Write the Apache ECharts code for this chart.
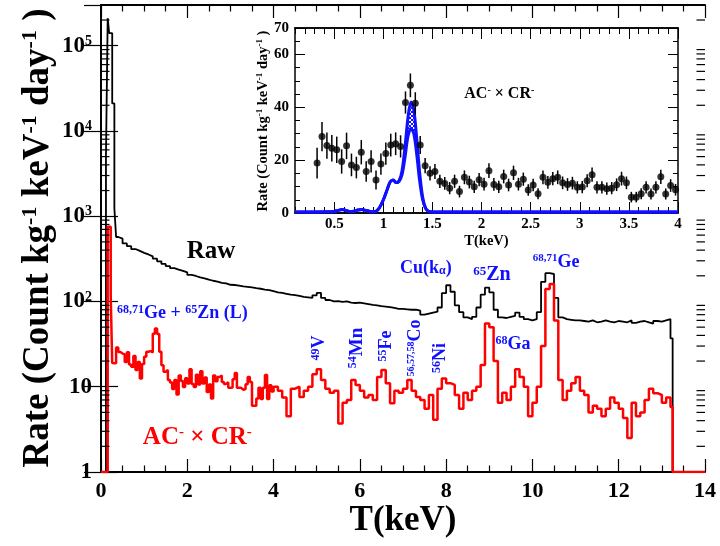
<!DOCTYPE html>
<html><head><meta charset="utf-8">
<script src="https://cdn.jsdelivr.net/npm/echarts@6/dist/echarts.min.js"></script>
<style>html,body{margin:0;padding:0;background:#fff}#c{width:720px;height:546px}</style>
</head><body><div id="c"></div>
<script>
// ---------------- DATA ----------------
// Raw histogram: irregular low-energy bins, then 0.1 keV bins from 0.4 keV
const rawLowEdges = [0, 0.115, 0.155, 0.19, 0.26, 0.31, 0.35];
const rawLowValues = [1, 5000, 210000, 140000, 21000, 1240, 570];
const rawStart = 0.4;
const rawBinWidth = 0.1;
const rawValues = [
  545, 480, 445, 412, 392, 372, 356, 338, 318, 296,
  276, 260, 246, 236, 229, 219, 205, 199, 192, 187,
  180, 175, 171, 165, 163, 157, 156, 153, 150, 148,
  146, 143, 141, 138, 136, 132, 128, 126, 123, 120,
  119, 116, 113, 112, 110, 118, 126, 110, 104, 100,
  101, 99, 100, 97, 96, 97, 95, 93, 91, 90,
  88, 87, 86, 84, 82, 82, 81, 80, 80, 78,
  70, 72, 74, 76, 85, 125, 155, 130, 90, 75,
  65, 62, 66, 85, 120, 145, 128, 80, 65, 64,
  66, 68, 74, 66, 62, 60, 62, 75, 170, 215,
  210, 110, 65, 62, 61, 60, 60, 59, 58, 60,
  57, 58, 60, 58, 57, 59, 58, 57, 60, 56,
  58, 59, 57, 55, 59, 58, 60, 62
];
const rawTailEdges = [13.2, 13.25];
const rawTailValues = [37, 1];

// AC- x CR- : low-energy bins, then the 0.05 keV bins shown in the inset, then 0.1 keV bins
const redLowEdges = [0, 0.155, 0.225, 0.26];
const redLowValues = [1, 750, 118, 19];
const insetStart = 0.3;
const insetBinWidth = 0.05;
const insetValues = [
  18.9, 28.9, 25.5, 24.5, 23.9, 19.5, 25.4, 18.2, 17.2, 23.0,
  15.7, 19.5, 12.5, 18.5, 22.5, 25.7, 26.2, 25.2, 41.8, 48.3,
  41.5, 25.7, 17.9, 15.0, 15.7, 12.0, 11.2, 9.4, 12.0, 8.1,
  13.5, 11.7, 9.9, 12.6, 10.9, 16.0, 10.8, 9.9, 13.8, 10.6,
  15.2, 10.9, 12.8, 8.7, 10.6, 7.3, 13.5, 11.6, 13.0, 13.5,
  11.4, 10.8, 11.3, 9.7, 9.8, 12.2, 14.5, 9.7, 9.7, 9.2,
  9.4, 10.7, 13.0, 11.4, 6.0, 6.0, 7.3, 9.7, 7.2, 9.7,
  13.7, 7.2, 10.4, 8.8
];
const insetErrors = [
  5.8, 5.5, 5.0, 5.0, 5.0, 4.6, 5.0, 4.3, 4.1, 4.6,
  3.9, 4.2, 3.6, 4.0, 4.2, 4.3, 4.3, 4.2, 4.2, 4.5,
  4.2, 3.4, 2.9, 2.7, 2.8, 2.5, 2.4, 2.3, 2.5, 2.2,
  2.6, 2.4, 2.3, 2.5, 2.4, 2.8, 2.4, 2.3, 2.6, 2.4,
  2.7, 2.4, 2.5, 2.2, 2.4, 2.1, 2.6, 2.4, 2.5, 2.6,
  2.4, 2.4, 2.4, 2.3, 2.3, 2.5, 2.7, 2.3, 2.3, 2.3,
  2.3, 2.4, 2.6, 2.4, 2.0, 2.0, 2.1, 2.3, 2.1, 2.3,
  2.7, 2.1, 2.4, 2.2
];
const redStart = 4.0;
const redBinWidth = 0.1;
const redValues = [
  10, 9, 7.5, 4.5, 9.5, 10, 7.6, 9, 10, 14,
  16, 12, 9.5, 8.5, 9, 3.7, 6.5, 7, 12, 10.5,
  9, 7.5, 8, 7, 13, 15.7, 11, 6.4, 9, 8.5,
  9.5, 12, 9, 7.6, 7, 5.5, 8, 4.1, 9.5, 12.5,
  11, 10.5, 8, 5.5, 8.5, 7, 9, 10, 18, 55,
  50, 20, 6.5, 8.5, 7, 10, 16, 13, 10, 4.5,
  6.5, 10, 30, 140, 160, 60, 12, 7, 9, 11,
  13, 9, 8, 5, 6, 5.5, 4.5, 5.5, 7.5, 6.5,
  5.5, 4.3, 2.5, 6.5, 4.5, 5, 7, 9.5, 8.4, 8,
  6.5, 7.5
];
const redTailEdges = [13.2, 13.25];
const redTailValues = [5.8, 1];

// Inset fit curve (upper and lower edges of the band)
const fitX =     [0.1, 0.3, 0.45, 0.5, 0.54, 0.58, 0.62, 0.66, 0.7, 0.74, 0.78, 0.82, 0.86, 0.9, 0.93, 0.96, 1.0, 1.04, 1.07, 1.1, 1.13, 1.16, 1.19, 1.22, 1.25, 1.28, 1.31, 1.34, 1.37, 1.4, 1.43, 1.46, 1.5, 1.6, 4.0];
const fitUpper = [0.4, 0.4, 0.45, 0.6, 1.0, 1.3, 1.0, 0.6, 0.7, 1.1, 1.3, 1.0, 0.6, 0.5, 0.8, 2.0, 5.0, 9.0, 11.8, 12.5, 11.5, 12.2, 16, 25, 36, 42, 39, 28, 15, 6, 1.8, 0.6, 0.4, 0.4, 0.4];
const fitLower = [0.4, 0.4, 0.45, 0.6, 1.0, 1.3, 1.0, 0.6, 0.7, 1.1, 1.3, 1.0, 0.6, 0.5, 0.8, 2.0, 5.0, 9.0, 11.8, 12.5, 11.5, 12.0, 14.5, 21, 29, 32, 30, 22, 12, 5, 1.8, 0.6, 0.4, 0.4, 0.4];

// Tick labels
const mainXTicks = [0, 2, 4, 6, 8, 10, 12, 14];
const insetXTicks = [0.5, 1, 1.5, 2, 2.5, 3, 3.5, 4];

// ---------------- BUILD ----------------
const r3 = v => Math.round(v * 1000) / 1000;
function steps(edges, values, end) {
  const pts = edges.map((e, i) => [e, values[i]]);
  pts.push([end, values[values.length - 1]]);
  return pts;
}
const rawEdges = rawLowEdges.concat(rawValues.map((_, i) => r3(rawStart + rawBinWidth * i)), rawTailEdges);
const rawAll = rawLowValues.concat(rawValues, rawTailValues);
const redEdges = redLowEdges.concat(
  insetValues.map((_, i) => r3(insetStart + insetBinWidth * i)),
  redValues.map((_, i) => r3(redStart + redBinWidth * i)),
  redTailEdges);
const redAll = redLowValues.concat(insetValues, redValues, redTailValues);

const insetPts = insetValues.map((v, i) => [r3(insetStart + insetBinWidth * (i + 0.5)), v]);
const insetErr = insetValues.map((v, i) => [r3(insetStart + insetBinWidth * (i + 0.5)), v, insetErrors[i]]);
const bandIdx = fitX.map((x, i) => i).filter(i => fitX[i] >= 1.13 && fitX[i] <= 1.43);

const minorLog = [];
for (let k = 0; k <= 5; k++) for (let m = 2; m <= 9; m++) { const v = m * Math.pow(10, k); if (v < 3e5) minorLog.push([0, v]); }
const insetMinor = [];
for (let i = 1; i <= 40; i++) insetMinor.push(r3(i * 0.1));

const FONT = 'Liberation Serif';
const BLUE = '#1010ff';

const pc = document.createElement('canvas'); pc.width = 4; pc.height = 4;
const g = pc.getContext('2d'); g.fillStyle = '#fff'; g.fillRect(0, 0, 4, 4);
g.strokeStyle = BLUE; g.lineWidth = 1; g.beginPath(); g.moveTo(0, 0); g.lineTo(4, 4); g.moveTo(4, 0); g.lineTo(0, 4); g.stroke();

const chart = echarts.init(document.getElementById('c'));

function supRich(main, sup, sub) {
  return {
    m: {fontFamily: FONT, fontWeight: 'bold', fontSize: main, verticalAlign: 'middle'},
    s: {fontFamily: FONT, fontWeight: 'bold', fontSize: sup, verticalAlign: 'top', lineHeight: sup},
    d: {fontFamily: FONT, fontWeight: 'bold', fontSize: sub || sup, verticalAlign: 'bottom', lineHeight: sub || sup}
  };
}

const mainAxisCommon = {
  type: 'value', min: 0, max: 14, interval: 2, gridIndex: 0,
  axisLine: {lineStyle: {color: '#000', width: 2}},
  axisTick: {inside: true, length: 13, lineStyle: {color: '#000', width: 1.2}},
  minorTick: {show: true, splitNumber: 4, length: 6.5, lineStyle: {color: '#000', width: 1.2}},
  splitLine: {show: false}
};
const logAxisCommon = {
  type: 'log', logBase: 10, min: 1, max: 3e5, gridIndex: 0,
  axisLine: {lineStyle: {color: '#000', width: 2}},
  axisTick: {inside: true, length: 17, lineStyle: {color: '#000', width: 1.2}},
  splitLine: {show: false}
};
const insetXCommon = {
  type: 'value', min: 0.1, max: 4, gridIndex: 1, z: 6,
  axisLine: {lineStyle: {color: '#000', width: 1.5}},
  splitLine: {show: false}
};
const insetYCommon = {
  type: 'value', min: 0, max: 70, interval: 20, gridIndex: 1, z: 6,
  axisLine: {lineStyle: {color: '#000', width: 1.5}},
  axisTick: {inside: true, length: 10, lineStyle: {color: '#000'}},
  minorTick: {show: true, splitNumber: 4, length: 5, lineStyle: {color: '#000'}},
  splitLine: {show: false}
};

const option = {
  animation: false,
  backgroundColor: '#fff',
  grid: [
    {left: 101, right: 15, top: 5, bottom: 74},
    {left: 295, right: 42, top: 28, bottom: 333, show: true, backgroundColor: '#fff', borderWidth: 0, z: 5}
  ],
  xAxis: [
    Object.assign({}, mainAxisCommon, {position: 'bottom',
      axisLabel: {fontFamily: FONT, fontWeight: 'bold', fontSize: 22, color: '#000', margin: 8, showMinLabel: true, showMaxLabel: true}}),
    Object.assign({}, mainAxisCommon, {position: 'top', axisLabel: {show: false}}),
    Object.assign({}, insetXCommon, {position: 'bottom',
      axisTick: {inside: true, length: 11, customValues: insetXTicks, lineStyle: {color: '#000'}},
      axisLabel: {customValues: insetXTicks, fontFamily: FONT, fontWeight: 'bold', fontSize: 15, color: '#000', margin: 4}}),
    Object.assign({}, insetXCommon, {position: 'bottom',
      axisTick: {inside: true, length: 6, customValues: insetMinor, lineStyle: {color: '#000'}},
      axisLabel: {show: false}}),
    Object.assign({}, insetXCommon, {position: 'top',
      axisTick: {inside: true, length: 11, customValues: insetXTicks, lineStyle: {color: '#000'}},
      axisLabel: {show: false}}),
    Object.assign({}, insetXCommon, {position: 'top',
      axisTick: {inside: true, length: 6, customValues: insetMinor, lineStyle: {color: '#000'}},
      axisLabel: {show: false}})
  ],
  yAxis: [
    Object.assign({}, logAxisCommon, {position: 'left',
      axisLabel: {
        showMaxLabel: false, margin: 9, color: '#000',
        formatter: v => { const e = Math.round(Math.log10(v)); if (e === 0) return '{m|1}'; if (e === 1) return '{m|10}'; return '{m|10}{s|' + e + '}'; },
        rich: supRich(23, 14)
      }}),
    Object.assign({}, logAxisCommon, {position: 'right', axisLabel: {show: false}}),
    Object.assign({}, insetYCommon, {position: 'left',
      axisLabel: {fontFamily: FONT, fontWeight: 'bold', fontSize: 15, color: '#000', margin: 6}}),
    Object.assign({}, insetYCommon, {position: 'right', axisLabel: {show: false}})
  ],
  series: [
    {type: 'line', name: 'Raw', xAxisIndex: 0, yAxisIndex: 0, step: 'end', symbol: 'none',
     data: steps(rawEdges, rawAll, 14), lineStyle: {color: '#000', width: 1.8}, z: 2},
    {type: 'line', name: 'AC-xCR-', xAxisIndex: 0, yAxisIndex: 0, step: 'end', symbol: 'none',
     data: steps(redEdges, redAll, 14), lineStyle: {color: '#ff0000', width: 2.5}, z: 3},
    {type: 'custom', xAxisIndex: 0, yAxisIndex: 0, data: minorLog, z: 4, silent: true,
     renderItem: (params, api) => {
       const v = api.value(1);
       const a = api.coord([0, v]), b = api.coord([14, v]);
       return {type: 'group', children: [
         {type: 'line', shape: {x1: a[0], y1: a[1], x2: a[0] + 8.5, y2: a[1]}, style: {stroke: '#000', lineWidth: 1.2}},
         {type: 'line', shape: {x1: b[0], y1: b[1], x2: b[0] - 8.5, y2: b[1]}, style: {stroke: '#000', lineWidth: 1.2}}
       ]};
     }},
    // inset: hatched band between the two fit curves
    {type: 'custom', xAxisIndex: 2, yAxisIndex: 2, data: [[1.28, 36]], z: 7, silent: true,
     renderItem: (params, api) => {
       const pts = [];
       bandIdx.forEach(i => pts.push(api.coord([fitX[i], fitUpper[i]])));
       bandIdx.slice().reverse().forEach(i => pts.push(api.coord([fitX[i], fitLower[i]])));
       return {type: 'polygon', shape: {points: pts}, style: {fill: {image: pc, repeat: 'repeat'}, stroke: null}};
     }},
    {type: 'line', xAxisIndex: 2, yAxisIndex: 2, data: fitX.map((x, i) => [x, fitUpper[i]]),
     symbol: 'none', smooth: 0.3, lineStyle: {color: BLUE, width: 3}, z: 8},
    {type: 'line', xAxisIndex: 2, yAxisIndex: 2, data: fitX.map((x, i) => [x, fitLower[i]]),
     symbol: 'none', smooth: 0.3, lineStyle: {color: BLUE, width: 3}, z: 8},
    {type: 'custom', xAxisIndex: 2, yAxisIndex: 2, data: insetErr, z: 9,
     renderItem: (params, api) => {
       const x = api.value(0), y = api.value(1), e = api.value(2);
       const p1 = api.coord([x, y - e]), p2 = api.coord([x, y + e]);
       return {type: 'line', shape: {x1: p1[0], y1: p1[1], x2: p2[0], y2: p2[1]}, style: {stroke: '#000', lineWidth: 1.5}};
     }},
    {type: 'scatter', xAxisIndex: 2, yAxisIndex: 2, data: insetPts, symbol: 'circle', symbolSize: 7,
     itemStyle: {color: '#000'}, z: 10}
  ]
};
chart.setOption(option);

// ---------------- ANNOTATIONS ----------------
const mainLabels = [
  {pos: [2.55, 380], text: '{m|Raw}', rich: supRich(25, 14), color: '#000', align: 'center'},
  {pos: [0.37, 73], text: '{s|68,71}{m|Ge + }{s|65}{m|Zn (L)}', rich: supRich(18, 12), color: BLUE, align: 'left'},
  {pos: [0.97, 2.57], text: '{m|AC}{s|-}{m| × CR}{s|-}', rich: supRich(25, 15), color: '#ff0000', align: 'left'},
  {pos: [5.05, 28.4], text: '{s|49}{m|V}', rich: supRich(18, 12), color: BLUE, align: 'center', rot: true},
  {pos: [5.93, 28.5], text: '{s|54}{m|Mn}', rich: supRich(19, 12), color: BLUE, align: 'center', rot: true},
  {pos: [6.61, 30], text: '{s|55}{m|Fe}', rich: supRich(18, 12), color: BLUE, align: 'center', rot: true},
  {pos: [7.28, 28.5], text: '{s|56,57,58}{m|Co}', rich: supRich(18, 10), color: BLUE, align: 'center', rot: true},
  {pos: [7.86, 21.7], text: '{s|56}{m|Ni}', rich: supRich(18, 12), color: BLUE, align: 'center', rot: true},
  {pos: [7.53, 247], text: '{m|Cu(k}{d|α}{m|)}', rich: supRich(18, 12, 12), color: BLUE, align: 'center'},
  {pos: [9.06, 204], text: '{s|65}{m|Zn}', rich: supRich(20, 13), color: BLUE, align: 'center'},
  {pos: [9.55, 31.7], text: '{s|68}{m|Ga}', rich: supRich(18, 12), color: BLUE, align: 'center'},
  {pos: [10.55, 290], text: '{s|68,71}{m|Ge}', rich: supRich(18, 11), color: BLUE, align: 'center'}
];
const insetLabels = [
  {pos: [2.18, 45.2], text: '{m|AC}{s|-}{m| × CR}{s|-}', rich: supRich(16, 10), color: '#000', align: 'center'}
];
const graphics = [];
function addLabel(L, finder) {
  const p = chart.convertToPixel(finder, L.pos);
  const rich = {};
  Object.keys(L.rich).forEach(k => rich[k] = Object.assign({}, L.rich[k], {fill: L.color}));
  graphics.push({type: 'text', x: p[0], y: p[1], rotation: L.rot ? Math.PI / 2 : 0, z: 100,
    style: {text: L.text, rich: rich, fill: L.color, align: L.align, verticalAlign: 'middle'}});
}
mainLabels.forEach(L => addLabel(L, {xAxisIndex: 0, yAxisIndex: 0}));
insetLabels.forEach(L => addLabel(L, {xAxisIndex: 2, yAxisIndex: 2}));

// axis titles
function title(x, y, text, rich, rot) {
  graphics.push({type: 'text', x: x, y: y, rotation: rot ? Math.PI / 2 : 0, z: 100,
    style: {text: text, rich: rich, fill: '#000', align: 'center', verticalAlign: 'middle'}});
}
const gMain = chart.convertToPixel({xAxisIndex: 0, yAxisIndex: 0}, [7, 1]);
title(gMain[0], 521, '{m|T(keV)}', supRich(35, 20), false);
title(38, 238, '{m|Rate (Count kg}{s|-1}{m| keV}{s|-1}{m| day}{s|-1}{m| )}', supRich(37, 22), true);
const gIn = chart.convertToPixel({xAxisIndex: 2, yAxisIndex: 2}, [2.05, 0]);
title(gIn[0], 241, '{m|T(keV)}', supRich(14.5, 9), false);
title(263, 121, '{m|Rate (Count kg}{s|-1}{m| keV}{s|-1}{m| day}{s|-1}{m| )}', supRich(14.5, 9), true);

chart.setOption({graphic: graphics});
</script>
</body></html>
